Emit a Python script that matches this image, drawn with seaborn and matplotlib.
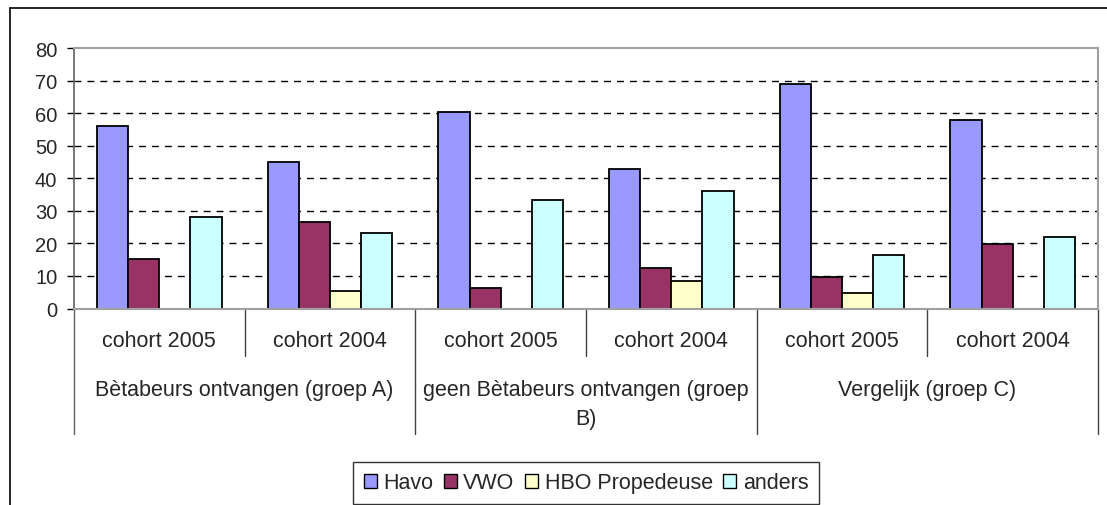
import matplotlib
matplotlib.use("Agg")
import matplotlib.pyplot as plt
from matplotlib.lines import Line2D
from matplotlib.patches import Patch
import seaborn as sns
import pandas as pd

# data
groups = ["Bètabeurs ontvangen (groep A)",
          "geen Bètabeurs ontvangen (groep\nB)",
          "Vergelijk (groep C)"]
cohorts = ["cohort 2005", "cohort 2004"]
series = ["Havo", "VWO", "HBO Propedeuse", "anders"]
havo = [56, 45, 60.3, 43, 69, 58]
vwo = [15.3, 26.5, 6.2, 12.3, 9.8, 19.7]
hbo = [0, 5.4, 0, 8.6, 4.8, 0]
anders = [28.1, 23.3, 33.2, 36.2, 16.5, 22.1]
yticks = [0, 10, 20, 30, 40, 50, 60, 70, 80]
colors = ["#9999FF", "#993366", "#FFFFCC", "#CCFFFF"]

slots = [f"{g}|{c}" for g in groups for c in cohorts]
rows = []
for name, vals in zip(series, [havo, vwo, hbo, anders]):
    for s, v in zip(slots, vals):
        rows.append({"slot": s, "serie": name, "waarde": v})
df = pd.DataFrame(rows)

sns.set_style("white")
plt.rcParams["font.family"] = ["Liberation Sans", "DejaVu Sans"]

fig = plt.figure(figsize=(11.07, 5.06), dpi=100)
ax = fig.add_axes([0.0668, 0.3883, 0.9251, 0.5148])

sns.barplot(data=df, x="slot", y="waarde", hue="serie", order=slots,
            hue_order=series, palette=dict(zip(series, colors)),
            saturation=1, width=0.73, edgecolor="black", linewidth=1.3,
            legend=False, ax=ax)

ax.set_ylim(0, 80)
ax.set_xlim(-0.5, len(slots) - 0.5)
ax.set_yticks(yticks)
ax.set_yticklabels([str(t) for t in yticks], fontsize=14.5)
ax.tick_params(axis="y", direction="out", length=5, width=1, color="black",
               pad=7, left=True)
ax.tick_params(axis="x", bottom=False, labelbottom=False)
ax.set_xlabel("")
ax.set_ylabel("")

for t in yticks[1:-1]:
    ax.axhline(t, color="black", lw=1, ls=(0, (5, 4.3)), zorder=0.5)

for side in ["top", "right", "bottom"]:
    ax.spines[side].set_color("#a0a0a0")
    ax.spines[side].set_linewidth(1.5)
ax.spines["left"].set_color("#606060")
ax.spines["left"].set_linewidth(1.2)

# multi-level category axis
trans = ax.get_xaxis_transform()
for i in range(len(slots) + 1):
    x = i - 0.5
    low = -0.482 if i % 2 == 0 else -0.182
    col = "#606060" if i == 0 else "#404040"
    ax.add_line(Line2D([x, x], [0, low], transform=trans, color=col,
                       lw=1.0, clip_on=False))
for i, s in enumerate(slots):
    ax.text(i, -0.122, s.split("|")[1], transform=trans, ha="center",
            va="center", fontsize=15.5)
for j, g in enumerate(groups):
    ax.text(2 * j + 0.5, -0.272, g, transform=trans, ha="center",
            va="top", fontsize=15.5, linespacing=1.45)

# outer chart frame
fig.add_artist(Line2D([10 / 1107, 1], [1 - 9 / 506, 1 - 9 / 506],
                      transform=fig.transFigure, color="black", lw=1.2))
fig.add_artist(Line2D([10 / 1107, 10 / 1107], [0, 1 - 9 / 506],
                      transform=fig.transFigure, color="black", lw=1.2))

handles = [Patch(facecolor=c, edgecolor="black", lw=1) for c in colors]
leg = fig.legend(handles, series, loc="center", ncol=4,
                 bbox_to_anchor=(586 / 1107, 1 - 484 / 506), fontsize=15.5,
                 frameon=True, fancybox=False, handlelength=0.6,
                 handleheight=0.6, handletextpad=0.3, columnspacing=0.5,
                 borderpad=0.5)
leg.get_frame().set_edgecolor("black")
leg.get_frame().set_linewidth(1)

fig.savefig("out.png", dpi=100)
